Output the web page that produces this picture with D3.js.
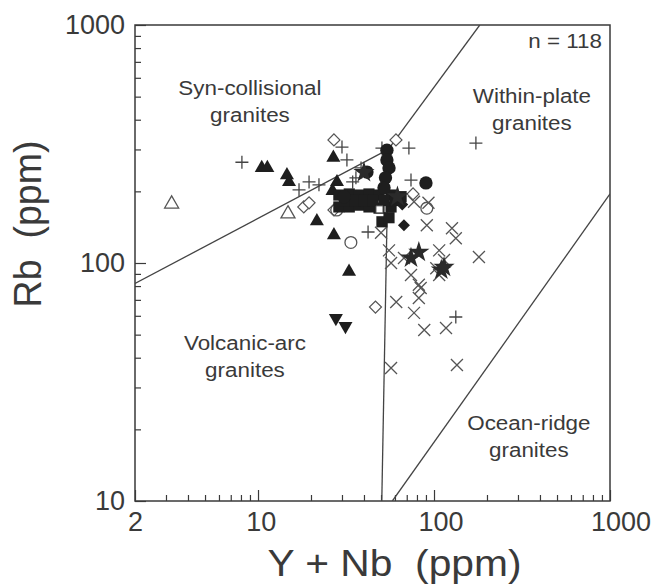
<!DOCTYPE html>
<html><head><meta charset="utf-8">
<script src="https://cdn.jsdelivr.net/npm/d3@7/dist/d3.min.js"></script>
<style>
body{margin:0;background:#fff}
svg{display:block}
text{font-family:"Liberation Sans",Arial,sans-serif;fill:#3a3a3a}
</style>
</head><body>
<svg id="chart" width="654" height="586"></svg>
<script>
// ---------- data (Y+Nb ppm, Rb ppm) ----------
const xMajorTicks = [2, 10, 100, 1000];
const yMajorTicks = [10, 100, 1000];
const xLabel = "Y + Nb  (ppm)";
const yLabel = "Rb  (ppm)";

const boundaryVAGsyn = [[2, 82], [55, 300]];
const boundarySynWPG = [[55, 300], [182, 1000]];
const boundaryVAGWPG = [[55, 300], [50.5, 10]];
const boundaryWPGORG = [[58, 10], [1000, 195]];

const regionNames = [["Syn-collisional", "granites"], ["Within-plate", "granites"], ["Volcanic-arc", "granites"], ["Ocean-ridge", "granites"]];
const regionAnchors = [[9.0, 508], [360, 470], [8.43, 43], [346, 19.9]];
const countText = "n = 118";
const countAnchor = [900, 800];

const crossX = [[55.5,113],[57,100],[67.5,105],[91,144],[126.5,140],[133,127],[107,113],[114,103],[107,89],[180,106],[74,89],[82,81],[84,78.5],[82,71.3],[61,68.6],[77,61.7],[88,52.3],[117,53.3],[57,36.2],[135,37.3],[77,181],[93,179],[50,134],[103,95]];
const plusMark = [[8.1,265],[17.1,203],[19.5,219],[22.2,213],[30.0,307],[32.0,271],[38.5,251],[34.5,219],[36.0,228],[50.6,304],[72.0,304],[74.0,223],[42.2,135],[133,59.3],[173,319]];
const openDiamond = [[27,329],[60.8,329],[18.2,172],[19.5,179],[27,167],[46.5,65.3],[76,195]];
const openCircle = [[28,167],[33.7,122],[91,170]];
const openTriangle = [[3.23,177],[14.8,161]];
const filledTriangle = [[10.5,251],[11.3,251],[14.6,234],[15.0,219],[26.8,277],[28.1,219],[26.5,201],[21.6,150],[27.0,131],[32.9,92]];
const filledDownTriangle = [[27.7,58.7],[31.4,54.3]];
const filledSquare = [[28.8,193],[33,195],[37.5,193],[42.7,195],[48.7,193],[28.8,172],[33,172],[37.5,175],[42.7,172],[48.7,170],[57,193],[57,172],[50.6,149],[55.5,155],[31,183],[35.5,183],[40,183],[45,183],[52,183],[60,183],[65,190]];
const filledCircle = [[41.6,241],[90,217],[54,298],[54,271],[55.5,251],[53,228],[52,207],[30.8,190]];
const filledDiamond = [[67.5,144],[62,185],[66,176]];
const filledStar = [[40,240],[74,105],[82,111],[110,93.5],[114,96],[62,190]];
const openSquare = [[49,168]];

// ---------- layout ----------
const svg = d3.select("#chart");
const L = 135, R = 610, T = 25, B = 501;
const x = d3.scaleLog().domain([2, 1000]).range([L, R]);
const y = d3.scaleLog().domain([10, 1000]).range([B, T]);
const ink = "#3a3a3a";

svg.append("rect").attr("width", 654).attr("height", 586).attr("fill", "#fff");
svg.append("clipPath").attr("id", "clip").append("rect")
  .attr("x", L).attr("y", T).attr("width", R - L).attr("height", B - T);

const xMinor = x.ticks().filter(v => !xMajorTicks.includes(v));
const yMinor = y.ticks().filter(v => !yMajorTicks.includes(v));

function styleAxis(g) {
  g.select(".domain").remove();
  g.selectAll(".tick line").attr("stroke", ink).attr("stroke-width", 1.2);
  g.selectAll(".tick text").attr("fill", ink).style("font-size", "27px")
    .style("font-family", '"Liberation Sans",Arial,sans-serif');
}
svg.append("g").attr("transform", `translate(0,${B})`)
  .call(d3.axisBottom(x).tickValues(xMinor).tickSize(-6).tickFormat(""))
  .call(styleAxis);
svg.append("g").attr("transform", `translate(0,${B})`)
  .call(d3.axisBottom(x).tickValues(xMajorTicks).tickSize(-11).tickPadding(11).tickFormat(d3.format("d")))
  .call(styleAxis)
  .call(g => g.selectAll(".tick text").attr("dx", d => (x(d) - L) * 0.022));
svg.append("g").attr("transform", `translate(${L},0)`)
  .call(d3.axisLeft(y).tickValues(yMinor).tickSize(-6).tickFormat(""))
  .call(styleAxis);
svg.append("g").attr("transform", `translate(${L},0)`)
  .call(d3.axisLeft(y).tickValues(yMajorTicks).tickSize(-11).tickPadding(10).tickFormat(d3.format("d")))
  .call(styleAxis);

svg.append("rect").attr("x", L).attr("y", T).attr("width", R - L).attr("height", B - T)
  .attr("fill", "none").attr("stroke", ink).attr("stroke-width", 1.5);

const line = d3.line().x(d => x(d[0])).y(d => y(d[1]));
const bg = svg.append("g").attr("clip-path", "url(#clip)");
[boundaryVAGsyn, boundarySynWPG, boundaryVAGWPG, boundaryWPGORG].forEach(b => {
  bg.append("path").attr("d", line(b)).attr("fill", "none").attr("stroke", "#444").attr("stroke-width", 1.3);
});

const stretch = 1.12;
function stretchedText(sel) {
  sel.each(function() {
    const w = this.getComputedTextLength();
    d3.select(this).attr("textLength", w * stretch).attr("lengthAdjust", "spacingAndGlyphs");
  });
}
regionNames.forEach((lines, i) => {
  const a = regionAnchors[i];
  lines.forEach((s, j) => {
    svg.append("text").attr("x", x(a[0])).attr("y", y(a[1]) + j * 27)
      .attr("text-anchor", "middle").style("font-size", "20px").text(s).call(stretchedText);
  });
});
svg.append("text").attr("x", x(countAnchor[0])).attr("y", y(countAnchor[1]))
  .attr("text-anchor", "end").style("font-size", "20px").text(countText).call(stretchedText);

const mg = svg.append("g").attr("clip-path", "url(#clip)");
const plusPath = "M-6.5,0H6.5M0,-6.5V6.5";
const xPath = "M-6,-6L6,6M-6,6L6,-6";
function draw(data, path, opt) {
  mg.append("g").selectAll("path").data(data).join("path")
    .attr("d", path)
    .attr("transform", d => `translate(${x(d[0])},${y(d[1])})${opt.rot ? " rotate(" + opt.rot + ")" : ""}`)
    .attr("fill", opt.fill || "none")
    .attr("stroke", opt.stroke || "none")
    .attr("stroke-width", opt.sw || 0);
}
const sym = (t, s) => d3.symbol(t, s)();
draw(crossX, xPath, {stroke: "#555", sw: 1.3});
draw(plusMark, plusPath, {stroke: "#444", sw: 1.3});
draw(openDiamond, sym(d3.symbolSquare, 72), {stroke: "#555", sw: 1.2, fill: "#fff", rot: 45});
draw(openCircle, sym(d3.symbolCircle, 110), {stroke: "#555", sw: 1.3, fill: "none"});
draw(openTriangle, sym(d3.symbolTriangle, 85), {stroke: "#555", sw: 1.3, fill: "#fff"});
draw(filledTriangle, sym(d3.symbolTriangle, 85), {fill: "#1e1e1e"});
draw(filledDownTriangle, sym(d3.symbolTriangle, 85), {fill: "#1e1e1e", rot: 180});
draw(filledSquare, sym(d3.symbolSquare, 125), {fill: "#1e1e1e"});
draw(filledCircle, sym(d3.symbolCircle, 140), {fill: "#1e1e1e"});
draw(filledDiamond, sym(d3.symbolSquare, 72), {fill: "#1e1e1e", rot: 45});
draw(filledStar, sym(d3.symbolStar, 140), {fill: "#2a2a2a"});
draw(openSquare, sym(d3.symbolSquare, 50), {fill: "#fff", stroke: "#444", sw: 1});

svg.append("text").attr("x", (L + R) / 2 + 22).attr("y", 576)
  .attr("text-anchor", "middle").style("font-size", "36px").style("white-space", "pre")
  .attr("textLength", 254).attr("lengthAdjust", "spacingAndGlyphs").text(xLabel);
svg.append("text").attr("transform", `translate(41,${(T + B) / 2 - 39}) rotate(-90)`)
  .attr("text-anchor", "middle").style("font-size", "38px").style("white-space", "pre")
  .attr("textLength", 167).attr("lengthAdjust", "spacingAndGlyphs").text(yLabel);
</script>
</body></html>
